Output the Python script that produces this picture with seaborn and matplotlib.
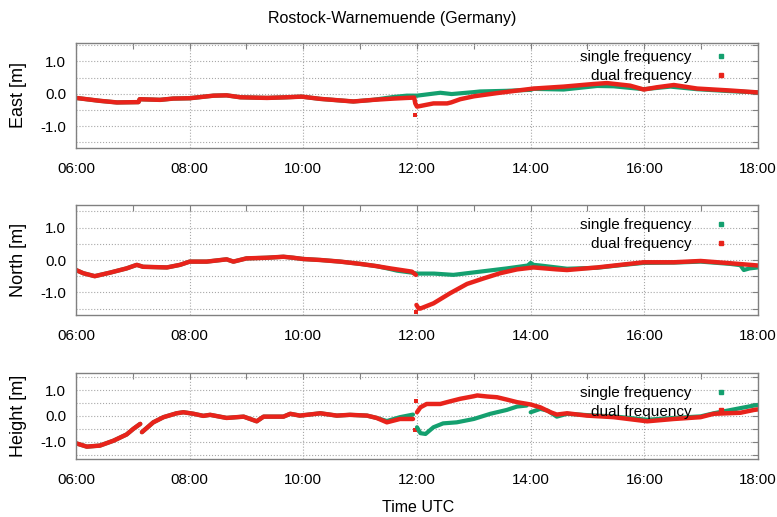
import numpy as np
import pandas as pd
import matplotlib
matplotlib.use("Agg")
import matplotlib.pyplot as plt
import seaborn as sns
from matplotlib.lines import Line2D
from matplotlib.ticker import FixedLocator, FixedFormatter

# ---------------- data (hours UTC, metres); NaN marks a gap ----------------
title = "Rostock-Warnemuende (Germany)"
series_names = ["single frequency", "dual frequency"]
panel_labels = ["East [m]", "North [m]", "Height [m]"]
x_tick_values = [6, 8, 10, 12, 14, 16, 18]
x_tick_labels = ["06:00", "08:00", "10:00", "12:00", "14:00", "16:00", "18:00"]
y_tick_values = [-1.0, 0.0, 1.0]
y_tick_labels = ["-1.0", "0.0", "1.0"]

nan = np.nan

# East
east_common_t = [6.0, 6.42, 6.72, 7.1, 7.12, 7.48, 7.71, 8.0, 8.42, 8.65, 8.89,
                 9.36, 9.71, 9.97, 10.3, 10.88, 11.23]
east_common_v = [-0.13, -0.22, -0.27, -0.26, -0.17, -0.19, -0.15, -0.14, -0.06, -0.05, -0.11,
                 -0.13, -0.11, -0.09, -0.16, -0.24, -0.19]
east_single_t = east_common_t + [11.59, 11.82, 12.0, 12.41, 12.61, 13.0, 13.11, 13.58, 14.0,
                                 14.05, 14.58, 15.17, 15.46, 15.99, 16.46, 16.93, 17.51, 18.0]
east_single_v = east_common_v + [-0.10, -0.06, -0.06, 0.03, -0.01, 0.05, 0.07, 0.09, 0.12,
                                 0.15, 0.13, 0.24, 0.23, 0.14, 0.22, 0.14, 0.08, 0.04]
east_dual_t = east_common_t + [11.59, 11.82, 11.95, 11.97, 12.0, 12.29, 12.53, 12.6, 12.76,
                               13.0, 13.41, 13.82, 14.05, 14.58, 15.1, 15.34, 15.75, 15.99,
                               16.22, 16.52, 16.93, 17.51, 18.0]
east_dual_v = east_common_v + [-0.15, -0.13, -0.12, -0.30, -0.40, -0.30, -0.30, -0.27, -0.17,
                               -0.08, 0.02, 0.11, 0.16, 0.22, 0.30, 0.33, 0.25, 0.13,
                               0.20, 0.27, 0.16, 0.10, 0.04]
east_dual_out_t = [11.97]
east_dual_out_v = [-0.65]

# North
north_common_t = [6.0, 6.13, 6.33, 6.6, 6.89, 7.07, 7.18, 7.6, 7.83, 8.0, 8.3, 8.65, 8.77,
                  9.0, 9.36, 9.65, 9.82, 10.0, 10.3, 10.65, 11.0, 11.29]
north_common_v = [-0.31, -0.41, -0.50, -0.39, -0.26, -0.15, -0.21, -0.23, -0.15, -0.05, -0.05,
                  0.02, -0.05, 0.05, 0.07, 0.10, 0.07, 0.03, 0.0, -0.05, -0.12, -0.19]
north_single_t = north_common_t + [11.53, 11.65, 11.91, 12.0, 12.3, 12.64, 13.11, 13.58, 13.95,
                                   14.0, 14.05, 14.17, 14.64, 15.17, 15.58, 15.99, 16.52, 16.99,
                                   17.51, 17.69, 17.75, 17.85, 18.0]
north_single_v = north_common_v + [-0.28, -0.33, -0.39, -0.42, -0.42, -0.46, -0.36, -0.26, -0.17,
                                   -0.09, -0.15, -0.17, -0.27, -0.24, -0.16, -0.09, -0.08, -0.05,
                                   -0.12, -0.16, -0.31, -0.26, -0.23]
north_dual_t = north_common_t + [11.53, 11.91, 11.98, nan, 11.99, 12.03, 12.06, 12.29, 12.58,
                                 12.88, 13.17, 13.46, 13.76, 14.05, 14.46, 14.64, 15.17, 15.58,
                                 15.99, 16.52, 16.99, 17.51, 18.0]
north_dual_v = north_common_v + [-0.26, -0.36, -0.46, nan, -1.39, -1.50, -1.50, -1.34, -1.03,
                                 -0.74, -0.57, -0.41, -0.29, -0.23, -0.29, -0.31, -0.23, -0.15,
                                 -0.07, -0.07, -0.03, -0.10, -0.17]
north_dual_out_t = [11.99]
north_dual_out_v = [-1.60]

# Height
height_common_t = [6.0, 6.19, 6.42, 6.66, 6.89, 7.01, 7.13, nan, 7.16, 7.36, 7.54, 7.77, 7.89,
                   8.07, 8.24, 8.36, 8.65, 8.95, 9.18, 9.3, 9.65, 9.77, 9.94, 10.3, 10.59,
                   10.82, 11.12, 11.29]
height_common_v = [-1.06, -1.19, -1.15, -0.96, -0.72, -0.50, -0.31, nan, -0.63, -0.25, -0.05,
                   0.10, 0.14, 0.08, 0.0, 0.04, -0.08, -0.03, -0.21, -0.03, -0.03, 0.08, 0.01,
                   0.10, 0.01, 0.04, 0.01, -0.08]
height_single_t = height_common_t + [11.47, 11.7, 11.93, nan, 12.0, 12.06, 12.15, 12.29, 12.46,
                                     12.7, 13.0, 13.29, 13.58, 13.76, 13.93, nan, 14.0, 14.17,
                                     14.3, 14.46, 14.64, 14.99, 15.46, 16.05, 16.52, 16.99,
                                     17.22, 17.69, 17.93, 18.0]
height_single_v = height_common_v + [-0.20, -0.05, 0.05, nan, -0.44, -0.67, -0.70, -0.44, -0.29,
                                     -0.25, -0.12, 0.08, 0.23, 0.36, 0.40, nan, 0.14, 0.27,
                                     0.20, -0.03, 0.08, 0.03, -0.02, -0.15, -0.08, -0.02,
                                     0.10, 0.30, 0.40, 0.42]
height_dual_t = height_common_t + [11.47, 11.7, 11.93, nan, 12.0, 12.06, 12.17, 12.41, 12.58,
                                   12.76, 13.0, 13.06, 13.23, 13.41, 13.58, 13.76, 14.0, 14.17,
                                   14.35, 14.46, 14.64, 14.99, 15.46, 16.05, 16.52, 16.99,
                                   17.22, 17.69, 17.93, 18.0]
height_dual_v = height_common_v + [-0.25, -0.12, -0.12, nan, 0.14, 0.33, 0.46, 0.46, 0.56,
                                   0.66, 0.76, 0.79, 0.75, 0.72, 0.63, 0.53, 0.44, 0.33,
                                   0.14, 0.05, 0.10, 0.01, -0.05, -0.21, -0.12, -0.05,
                                   0.08, 0.12, 0.23, 0.25]
height_dual_out_t = [11.96, 11.98]
height_dual_out_v = [-0.54, 0.59]

# ---------------- styling ----------------
sns.set_style("white")
plt.rcParams["font.family"] = ["Liberation Sans", "DejaVu Sans"]
plt.rcParams["axes.unicode_minus"] = False
plt.rcParams["text.color"] = "black"
plt.rcParams["axes.labelcolor"] = "black"

GREEN = "#14a06f"
RED = "#e8231b"
W, H = 777, 517


def to_df(t, v, name):
    df = pd.DataFrame({"time": t, "value": v})
    df["seg"] = df["value"].isna().cumsum()
    df = df.dropna().copy()
    df["series"] = name
    return df


panels = [
    dict(label=panel_labels[0], st=east_single_t, sv=east_single_v, dt=east_dual_t,
         dv=east_dual_v, ot=east_dual_out_t, ov=east_dual_out_v,
         top=42.7, bot=148.3, ylim=(-1.69, 1.58), legtop=50.5),
    dict(label=panel_labels[1], st=north_single_t, sv=north_single_v, dt=north_dual_t,
         dv=north_dual_v, ot=north_dual_out_t, ov=north_dual_out_v,
         top=205.0, bot=315.0, ylim=(-1.70, 1.70), legtop=218.5),
    dict(label=panel_labels[2], st=height_single_t, sv=height_single_v, dt=height_dual_t,
         dv=height_dual_v, ot=height_dual_out_t, ov=height_dual_out_v,
         top=372.7, bot=459.3, ylim=(-1.68, 1.67), legtop=386.0),
]

fig = plt.figure(figsize=(W / 100, H / 100), dpi=100)
left_px, right_px = 76, 758

for p in panels:
    ax = fig.add_axes([left_px / W, 1 - p["bot"] / H, (right_px - left_px) / W,
                       (p["bot"] - p["top"]) / H])
    ds = to_df(p["st"], p["sv"], series_names[0])
    dd = to_df(p["dt"], p["dv"], series_names[1])
    sns.lineplot(data=ds, x="time", y="value", units="seg", estimator=None, sort=False,
                 color=GREEN, linewidth=3.0, legend=False, ax=ax)
    sns.lineplot(data=dd, x="time", y="value", units="seg", estimator=None, sort=False,
                 color=RED, linewidth=3.2, legend=False, ax=ax)
    sns.scatterplot(x=p["ot"], y=p["ov"], color=RED, s=9, linewidth=0, marker="s",
                    legend=False, ax=ax)

    ax.set_xlim(6, 18)
    ax.set_ylim(*p["ylim"])
    ax.xaxis.set_major_locator(FixedLocator(x_tick_values))
    ax.xaxis.set_major_formatter(FixedFormatter(x_tick_labels))
    ax.xaxis.set_minor_locator(FixedLocator([7, 9, 11, 13, 15, 17]))
    ax.yaxis.set_major_locator(FixedLocator(y_tick_values))
    ax.yaxis.set_major_formatter(FixedFormatter(y_tick_labels))
    ax.yaxis.set_minor_locator(FixedLocator([-1.5, -0.5, 0.5, 1.5]))
    ax.tick_params(axis="both", which="both", direction="in", top=True, right=True,
                   color="#808080", width=0.8)
    ax.tick_params(axis="both", which="major", length=4, labelsize=10.8, colors="#808080",
                   labelcolor="black")
    ax.tick_params(axis="both", which="minor", length=4)
    ax.tick_params(axis="x", which="major", pad=10)
    ax.tick_params(axis="y", which="major", pad=7)
    ax.grid(True, axis="x", which="major", linestyle=":", color="#a8a8a8", linewidth=0.8)
    ax.grid(True, axis="y", which="both", linestyle=":", color="#a8a8a8", linewidth=0.8)
    for s in ax.spines.values():
        s.set_color("#808080")
        s.set_linewidth(1.0)
    ax.set_xlabel("")
    ax.set_ylabel(p["label"], fontsize=13, color="black")
    ax.yaxis.set_label_coords((27 - left_px) / (right_px - left_px), 0.5)

    handles = [Line2D([], [], marker="s", linestyle="none", markersize=2.5, color=GREEN),
               Line2D([], [], marker="s", linestyle="none", markersize=2.5, color=RED)]
    ax.legend(handles, series_names, loc="upper right",
              bbox_to_anchor=(728.5 / W, 1 - p["legtop"] / H), bbox_transform=fig.transFigure,
              frameon=False, markerfirst=False, handlelength=1.0, handletextpad=1.4,
              borderpad=0, borderaxespad=0, labelspacing=0.3, fontsize=11,
              labelcolor="black")

fig.text(392 / W, 1 - 18 / H, title, ha="center", va="center", fontsize=11.5, color="black")
fig.text(418 / W, 1 - 507 / H, "Time UTC", ha="center", va="center", fontsize=11.5,
         color="black")

fig.savefig("out.png", dpi=100)
